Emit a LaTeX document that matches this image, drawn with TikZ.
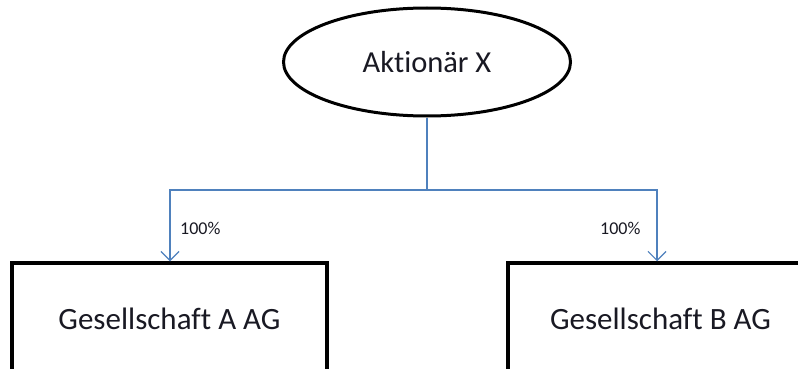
\documentclass[tikz,border=0pt]{standalone}
\usepackage{fontspec}
\setmainfont{Carlito}[Ligatures=NoCommon]
\usetikzlibrary{shapes.geometric,arrows.meta}
\definecolor{conn}{RGB}{79,129,189}
\definecolor{txt}{RGB}{25,25,35}
\begin{document}
\begin{tikzpicture}[x=1pt,y=-1pt,
  entity/.style={draw=black,line width=3.5pt,rectangle,minimum width=315pt,minimum height=112pt,inner sep=0pt,font=\fontsize{31}{36}\selectfont,text=txt},
  owner/.style={draw=black,line width=3pt,ellipse,minimum width=287pt,minimum height=108pt,inner sep=0pt,font=\fontsize{30.5}{36}\selectfont,text=txt},
  link/.style={draw=conn,line width=1.2pt},
  pct/.style={font=\fontsize{18}{21}\selectfont,text=txt,inner sep=0pt}]
\useasboundingbox (0,0) rectangle (798,369);
\fill[white] (0,0) rectangle (798,369);
\clip (0,0) rectangle (798,369);
\node[owner] (x) at (427,62) {Aktionär X};
\node[entity] (a) at (169.5,319) {Gesellschaft A AG};
\node[entity,minimum width=305pt] (b) at (660.5,319) {Gesellschaft B AG};
\coordinate (j) at (427,190);
\coordinate (ja) at (170,190);
\coordinate (jb) at (657,190);
\draw[link] (x.south) -- (j);
\draw[link,-{Straight Barb[length=9pt,width=18pt,line width=1.2pt]}] (j) -- (ja) -- (ja |- a.north);
\draw[link,-{Straight Barb[length=9pt,width=18pt,line width=1.2pt]}] (j) -- (jb) -- (jb |- b.north);
\node[pct,anchor=west] (pa) at (180,228) {100\%};
\node[pct,anchor=west] (pb) at (600,228) {100\%};
\end{tikzpicture}
\end{document}
